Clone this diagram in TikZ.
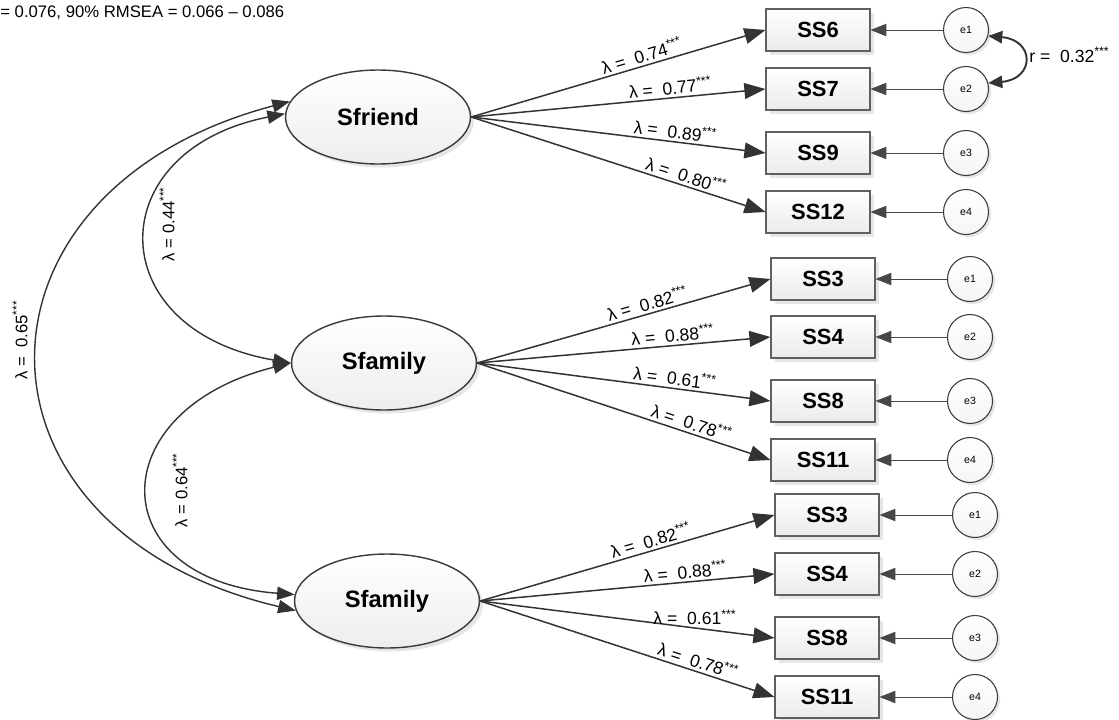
\documentclass[tikz,border=0pt]{standalone}
\usepackage{fontspec}
\setmainfont{Liberation Sans}
\usetikzlibrary{arrows.meta,shadows,shapes.geometric}

\definecolor{edge}{HTML}{333333}
\definecolor{rim}{HTML}{3A3A3A}

\begin{document}
\begin{tikzpicture}[x=0.02cm, y=-0.02cm,
    latent/.style={ellipse, draw=rim, line width=0.8pt, top color=white, bottom color=gray!14,
      minimum width=3.7cm, minimum height=1.88cm, inner sep=0pt,
      font=\fontsize{13.5}{16}\selectfont\bfseries,
      drop shadow={opacity=0.2, shadow xshift=2pt, shadow yshift=-2pt}},
    item/.style={rectangle, draw=gray!75!black, line width=0.6pt, top color=white, bottom color=gray!16,
      minimum width=2.08cm, minimum height=0.84cm, inner sep=0pt,
      font=\fontsize{12.5}{14}\selectfont\bfseries,
      drop shadow={opacity=0.2, shadow xshift=2pt, shadow yshift=-2pt}},
    err/.style={circle, draw=rim, line width=0.6pt, top color=white, bottom color=gray!8,
      minimum size=0.9cm, inner sep=0pt, font=\fontsize{6}{7}\selectfont,
      drop shadow={opacity=0.2, shadow xshift=1.5pt, shadow yshift=-1.5pt}},
    load/.style={-{Triangle[length=12pt,width=9pt]}, draw=edge, line width=0.85pt},
    resid/.style={-{Triangle[length=9pt,width=7pt]}, draw=edge!90, line width=0.55pt},
    covar/.style={{Triangle[length=10pt,width=7.5pt]}-{Triangle[length=10pt,width=7.5pt]}, draw=edge, line width=0.8pt},
    corr/.style={{Triangle[length=8pt,width=7pt]}-{Triangle[length=8pt,width=7pt]}, draw=edge, line width=1.1pt},
    lab/.style={font=\fontsize{10}{12}\selectfont, inner sep=1.5pt},
    flat/.style={},
    covlab/.style={font=\fontsize{9.5}{11}\selectfont, inner sep=0pt, rotate=90}]
  \useasboundingbox (0,0) rectangle (1119,720);

  \node[anchor=base west, inner sep=0pt, font=\fontsize{9.5}{11}\selectfont] (fit) at (0,17)
    {= 0.076, 90\% RMSEA = 0.066 – 0.086};

  % latent factors
  \node[latent] (friend) at (378,117) {Sfriend};
  \node[latent] (fam1) at (384,363) {Sfamily};
  \node[latent] (fam2) at (387,601) {Sfamily};

  % indicators and their errors
  \foreach \lbl/\y [count=\i] in {SS6/30, SS7/89, SS9/153, SS12/212} {
    \node[item] (a\i) at (818,\y) {\lbl};
    \node[err] (ea\i) at (966,\y) {e\i};
    \draw[resid] (ea\i) -- (a\i);
  }
  \foreach \lbl/\y [count=\i] in {SS3/279, SS4/337, SS8/401, SS11/460} {
    \node[item] (b\i) at (823,\y) {\lbl};
    \node[err] (eb\i) at (970,\y) {e\i};
    \draw[resid] (eb\i) -- (b\i);
  }
  \foreach \lbl/\y [count=\i] in {SS3/515, SS4/574, SS8/638, SS11/697} {
    \node[item] (c\i) at (827,\y) {\lbl};
    \node[err] (ec\i) at (975,\y) {e\i};
    \draw[resid] (ec\i) -- (c\i);
  }

  % loadings
  \foreach \i/\val/\p in {1/74/.59, 2/77/.68, 3/89/.69, 4/80/.72}
    \draw[load] (friend.east) -- (a\i.west)
      node[lab, pos=\p, above, sloped] {λ = \ 0.\val\textsuperscript{***}};
  \foreach \i/\val/\p in {1/82/.59, 2/88/.67, 3/61/.67, 4/78/.72}
    \draw[load] (fam1.east) -- (b\i.west)
      node[lab, pos=\p, above, sloped] {λ = \ 0.\val\textsuperscript{***}};
  \foreach \i/\val/\p/\s in {1/82/.59/sloped, 2/88/.70/sloped, 3/61/.73/flat, 4/78/.73/sloped}
    \draw[load] (fam2.east) -- (c\i.west)
      node[lab, pos=\p, above, \s] {λ = \ 0.\val\textsuperscript{***}};

  % factor covariances
  \draw[covar] (friend.170) .. controls (-46,190) and (-46,530) .. (fam2.186);
  \draw[covar] (friend.178) .. controls (100,150) and (100,330) .. (fam1.west);
  \draw[covar] (fam1.west) .. controls (101,410) and (101,580) .. (fam2.176);
  \node[covlab] (c65) at (20,340) {λ = \ 0.65\textsuperscript{***}};
  \node[covlab] (c44) at (167,224) {λ = 0.44\textsuperscript{***}};
  \node[covlab] (c64) at (180,490) {λ = 0.64\textsuperscript{***}};

  % error correlation
  \draw[corr] (ea1.-15) .. controls (1035,40) and (1035,79) .. (ea2.15);
  \node[lab, anchor=west, inner sep=0pt] (rlab) at (1029,55) {r = \ 0.32\textsuperscript{***}};
\end{tikzpicture}
\end{document}
